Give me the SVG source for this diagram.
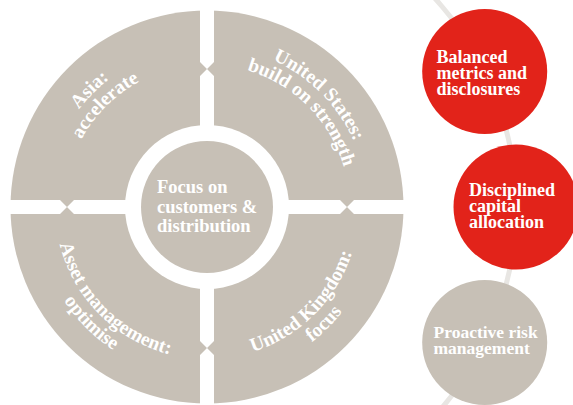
<svg xmlns="http://www.w3.org/2000/svg" width="573" height="405" viewBox="0 0 573 405">
<style>
.g{fill:#c7c0b6}
.w{fill:#ffffff}
.red{fill:#e2231a}
.t{font-family:"Liberation Serif","Times New Roman",serif;font-weight:bold;fill:#ffffff}
.q{font-size:19.5px}
.c{font-size:18.5px}
.r{font-size:18px}
.link{fill:none;stroke:#e8e6e3;stroke-width:5}
</style>
<defs>
<path id="tl1" d="M 51.49 248.67 A 161 161 0 0 1 248.67 51.49"/>
<path id="tl2" d="M 69.35 243.88 A 142.5 142.5 0 0 1 243.88 69.35"/>
<path id="tr1" d="M 165.33 51.49 A 161 161 0 0 1 362.51 248.67"/>
<path id="tr2" d="M 170.12 69.35 A 142.5 142.5 0 0 1 344.65 243.88"/>
<path id="bl1" d="M 60.18 167.66 A 152 152 0 0 0 246.34 353.82"/>
<path id="bl2" d="M 41.83 162.74 A 171 171 0 0 0 251.26 372.17"/>
<path id="br1" d="M 167.66 353.82 A 152 152 0 0 0 353.82 167.66"/>
<path id="br2" d="M 162.74 372.17 A 171 171 0 0 0 372.17 162.74"/>
</defs>
<rect width="573" height="405" fill="#ffffff"/>
<g id="connectors">
<path class="link" d="M 421.9 -15 A 309 309 0 0 1 430.9 420"/>
</g>
<g id="wheel">
<circle class="g" cx="207" cy="207" r="196.5"/>
<rect class="w" x="200" y="0" width="14" height="405"/>
<rect class="w" x="0" y="200" width="420" height="14"/>
<path class="g" d="M200 62 L207 69 L200 76 Z M214 62 L207 69 L214 76 Z"/>
<path class="g" d="M200 341 L207 348 L200 355 Z M214 341 L207 348 L214 355 Z"/>
<path class="g" d="M60 200 L67 207 L74 200 Z M60 214 L67 207 L74 214 Z"/>
<path class="g" d="M340 200 L347 207 L354 200 Z M340 214 L347 207 L354 214 Z"/>
<circle class="w" cx="207" cy="207" r="82"/>
</g>
<g id="asia">
<text class="t q" text-anchor="middle"><textPath href="#tl1" startOffset="50%">Asia:</textPath></text>
<text class="t q" text-anchor="middle"><textPath href="#tl2" startOffset="50%">accelerate</textPath></text>
</g>
<g id="us">
<text class="t q" text-anchor="middle"><textPath href="#tr1" startOffset="50%">United States:</textPath></text>
<text class="t q" text-anchor="middle"><textPath href="#tr2" startOffset="50%">build on strength</textPath></text>
</g>
<g id="am">
<text class="t q" text-anchor="middle"><textPath href="#bl1" startOffset="50%">Asset management:</textPath></text>
<text class="t q" text-anchor="middle"><textPath href="#bl2" startOffset="50%">optimise</textPath></text>
</g>
<g id="uk">
<text class="t q" text-anchor="middle"><textPath href="#br1" startOffset="50%">United Kingdom:</textPath></text>
<text class="t q" text-anchor="middle"><textPath href="#br2" startOffset="50%">focus</textPath></text>
</g>
<g id="center">
<circle class="g" cx="207" cy="207" r="66"/>
<text class="t c" x="157" y="193">Focus on</text>
<text class="t c" x="157" y="212.5">customers &amp;</text>
<text class="t c" x="157" y="232">distribution</text>
</g>
<g id="balanced">
<circle class="red" cx="484.7" cy="71.5" r="62.5"/>
<text class="t r" x="436.5" y="62.5">Balanced</text>
<text class="t r" x="436.5" y="78.5">metrics and</text>
<text class="t r" x="436.5" y="94.5">disclosures</text>
</g>
<g id="disciplined">
<circle class="red" cx="516" cy="207" r="62.5"/>
<text class="t r" x="469" y="196">Disciplined</text>
<text class="t r" x="469" y="212">capital</text>
<text class="t r" x="469" y="228">allocation</text>
</g>
<g id="proactive">
<circle class="g" cx="484.7" cy="342.5" r="62.5"/>
<text class="t" style="font-size:17.5px" x="433.5" y="337.5">Proactive risk</text>
<text class="t" style="font-size:17.5px" x="433.5" y="353.5">management</text>
</g>
</svg>
